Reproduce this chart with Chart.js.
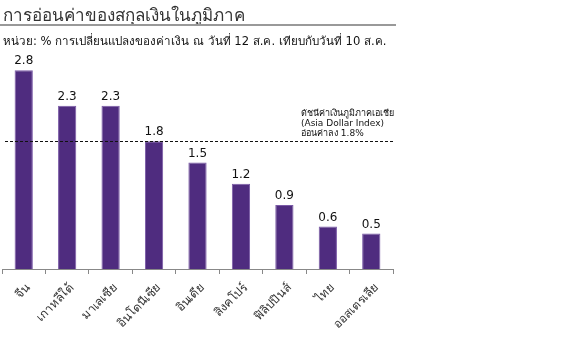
<!DOCTYPE html>
<html>
<head>
<meta charset="utf-8">
<script src="https://cdn.jsdelivr.net/npm/chart.js@4"></script>
<style>
  body { margin: 0; background: #fff; width: 569px; height: 341px; overflow: hidden; font-family: Tahoma, "DejaVu Sans", sans-serif; }
  #title { position: absolute; left: 3px; top: 1px; font-size: 17px; color: #333; }
  #rule { position: absolute; left: 0; top: 24px; width: 396px; height: 2px; background: #999; }
  #sub { position: absolute; left: 3px; top: 32px; font-size: 11.6px; color: #111; }
  #wrap { position: absolute; left: 0; top: 0; width: 569px; height: 341px; }
</style>
</head>
<body>
<div id="wrap"><canvas id="chart" width="569" height="341"></canvas></div>
<div id="title">การอ่อนค่าของสกุลเงินในภูมิภาค</div>
<div id="rule"></div>
<div id="sub">หน่วย: % การเปลี่ยนแปลงของค่าเงิน ณ วันที่ 12 ส.ค. เทียบกับวันที่ 10 ส.ค.</div>
<script>
const countries = ["จีน", "เกาหลีใต้", "มาเลเซีย", "อินโดนีเซีย", "อินเดีย", "สิงคโปร์", "ฟิลิปปินส์", "ไทย", "ออสเตรเลีย"];
const weakening = [2.8, 2.3, 2.3, 1.8, 1.5, 1.2, 0.9, 0.6, 0.5];
const indexValue = 1.8;
const indexNote = ["ดัชนีค่าเงินภูมิภาคเอเชีย", "(Asia Dollar Index)", "อ่อนค่าลง 1.8%"];

const fontFamily = 'Tahoma, "DejaVu Sans", sans-serif';

// value labels over bars + dashed index line with note
const extras = {
    id: "extras",
    afterDatasetsDraw(chart) {
        const ctx = chart.ctx;
        const area = chart.chartArea;
        const y = chart.scales.y;
        ctx.save();
        ctx.font = "12px " + fontFamily;
        ctx.fillStyle = "#111";
        ctx.textAlign = "center";
        ctx.textBaseline = "bottom";
        chart.getDatasetMeta(0).data.forEach((bar, i) => {
            ctx.fillText(weakening[i].toFixed(1), bar.x, bar.y - 3);
        });

        const ly = Math.round(y.getPixelForValue(indexValue)) + 0.5;
        ctx.strokeStyle = "#111";
        ctx.lineWidth = 1;
        ctx.setLineDash([3, 2]);
        ctx.beginPath();
        ctx.moveTo(area.left + 3, ly);
        ctx.lineTo(area.right, ly);
        ctx.stroke();

        ctx.font = "9px " + fontFamily;
        ctx.textAlign = "left";
        ctx.textBaseline = "alphabetic";
        indexNote.forEach((t, i) => {
            ctx.fillText(t, 301, ly - 26 + i * 10);
        });
        ctx.restore();
    }
};

new Chart(document.getElementById("chart"), {
    type: "bar",
    data: {
        labels: countries,
        datasets: [{
            data: weakening,
            backgroundColor: "#4f2c7f",
            borderColor: "#7a5aa6",
            borderWidth: { top: 1, left: 1, right: 1, bottom: 0 },
            barPercentage: 0.42,
            categoryPercentage: 1
        }]
    },
    options: {
        responsive: false,
        animation: false,
        layout: { padding: { top: 56, left: 2, right: 176, bottom: 0 } },
        plugins: { legend: { display: false }, tooltip: { enabled: false } },
        scales: {
            x: {
                grid: { display: true, drawOnChartArea: false, drawTicks: true, tickLength: 5, color: "#888", offset: true },
                border: { color: "#888" },
                ticks: { minRotation: 45, maxRotation: 45, color: "#333", font: { family: fontFamily, size: 12 }, padding: 7, labelOffset: 5 },
                afterFit(scale) { scale.height = 72; }
            },
            y: {
                display: false,
                min: 0,
                max: 3
            }
        }
    },
    plugins: [extras]
});
</script>
</body>
</html>
